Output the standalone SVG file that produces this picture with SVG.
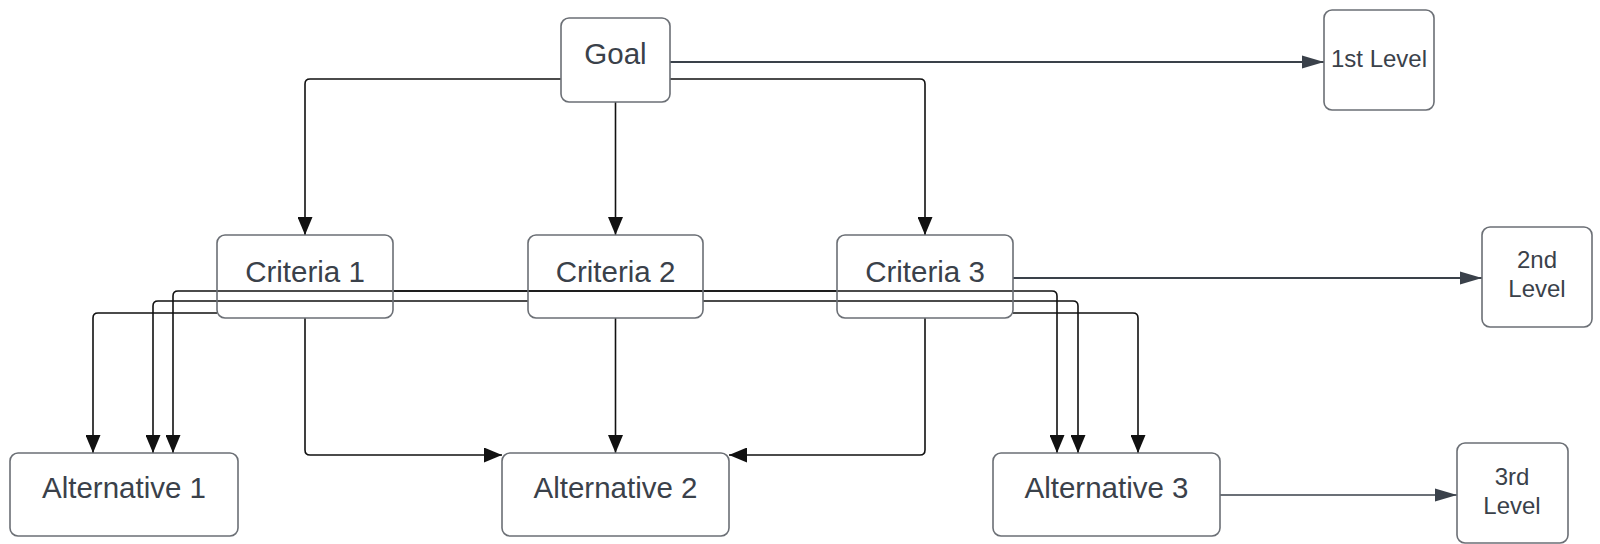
<svg xmlns="http://www.w3.org/2000/svg" width="1600" height="544" viewBox="0 0 1600 544">
<defs>
<style>
.node rect{fill:#ffffff;stroke:#6b6f75;stroke-width:1.6}
.node rect.clear{fill:none}
.node text{font-family:"Liberation Sans",Arial,sans-serif;fill:#3a414a;text-anchor:middle}
.big{font-size:29.5px}
.small{font-size:24px}
.c{fill:none;stroke:#111111;stroke-width:1.6;stroke-linejoin:round}
.lv{fill:none;stroke:#3a414a;stroke-width:2.2}
</style>
<marker id="ah" markerUnits="userSpaceOnUse" markerWidth="18" markerHeight="15" refX="18" refY="7.5" orient="auto">
<path d="M0,0 L18,7.5 L0,15 z" fill="#111111"/>
</marker>
<marker id="al" markerUnits="userSpaceOnUse" markerWidth="22" markerHeight="14" refX="22" refY="7" orient="auto">
<path d="M0,0.5 L22,7 L0,13.5 z" fill="#3a414a"/>
</marker>
</defs>
<rect width="1600" height="544" fill="#ffffff"/>
<g id="connectors">
<path class="lv" d="M670,62 H1324" marker-end="url(#al)"/>
<path class="lv" d="M1013,278 H1482" marker-end="url(#al)"/>
<path class="lv" style="stroke-width:1.6" d="M1220,495 H1457" marker-end="url(#al)"/>
<path class="c" d="M561,79 H310 Q305,79 305,84 V235" marker-end="url(#ah)"/>
<path class="c" d="M615.5,102 V235" marker-end="url(#ah)"/>
<path class="c" d="M670,79 H920 Q925,79 925,84 V235" marker-end="url(#ah)"/>
<path class="c" d="M217,313 H98 Q93,313 93,318 V453" marker-end="url(#ah)"/>
<path class="c" d="M528,301 H158 Q153,301 153,306 V453" marker-end="url(#ah)"/>
<path class="c" d="M837,291 H178 Q173,291 173,296 V453" marker-end="url(#ah)"/>
<path class="c" d="M305,318 V450 Q305,455 310,455 H502" marker-end="url(#ah)"/>
<path class="c" d="M615.5,318 V453" marker-end="url(#ah)"/>
<path class="c" d="M925,318 V450 Q925,455 920,455 H729" marker-end="url(#ah)"/>
<path class="c" d="M393,291 H1052 Q1057,291 1057,296 V453" marker-end="url(#ah)"/>
<path class="c" d="M703,301 H1073 Q1078,301 1078,306 V453" marker-end="url(#ah)"/>
<path class="c" d="M1013,313 H1133 Q1138,313 1138,318 V453" marker-end="url(#ah)"/>
</g>
<g id="goal" class="node"><rect x="561" y="18" width="109" height="84" rx="8"/><text class="big" x="615.5" y="64">Goal</text></g>
<g id="level1" class="node"><rect x="1324" y="10" width="110" height="100" rx="8"/><text class="small" x="1379" y="67">1st Level</text></g>
<g id="criteria1" class="node"><rect class="clear" x="217" y="235" width="176" height="83" rx="8"/><text class="big" x="305" y="282">Criteria 1</text></g>
<g id="criteria2" class="node"><rect class="clear" x="528" y="235" width="175" height="83" rx="8"/><text class="big" x="615.5" y="282">Criteria 2</text></g>
<g id="criteria3" class="node"><rect class="clear" x="837" y="235" width="176" height="83" rx="8"/><text class="big" x="925" y="282">Criteria 3</text></g>
<g id="level2" class="node"><rect x="1482" y="227" width="110" height="100" rx="8"/><text class="small" x="1537" y="268">2nd</text><text class="small" x="1537" y="297">Level</text></g>
<g id="alt1" class="node"><rect x="10" y="453" width="228" height="83" rx="8"/><text class="big" x="124" y="498">Alternative 1</text></g>
<g id="alt2" class="node"><rect x="502" y="453" width="227" height="83" rx="8"/><text class="big" x="615.5" y="498">Alternative 2</text></g>
<g id="alt3" class="node"><rect x="993" y="453" width="227" height="83" rx="8"/><text class="big" x="1106.5" y="498">Alternative 3</text></g>
<g id="level3" class="node"><rect x="1457" y="443" width="111" height="100" rx="8"/><text class="small" x="1512" y="485">3rd</text><text class="small" x="1512" y="514">Level</text></g>
</svg>
